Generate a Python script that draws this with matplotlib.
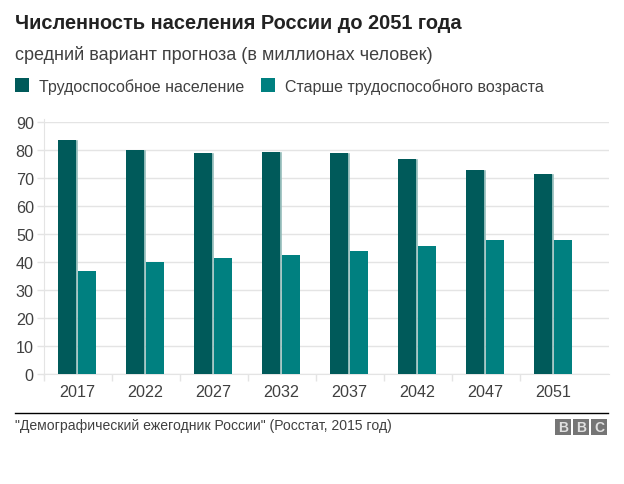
import matplotlib
matplotlib.use("Agg")
import matplotlib.pyplot as plt
from matplotlib.patches import Rectangle
from matplotlib.lines import Line2D

years = ["2017", "2022", "2027", "2032", "2037", "2042", "2047", "2051"]
working_age = [83.5, 80, 79, 79.5, 78.9, 76.9, 72.9, 71.6]
over_working_age = [37, 40, 41.5, 42.7, 44.1, 45.6, 47.8, 47.9]
y_ticks = [0, 10, 20, 30, 40, 50, 60, 70, 80, 90]

DARK = "#005a5a"
TEAL = "#008080"
W, H = 624, 485

plt.rcParams["font.family"] = ["Liberation Sans", "DejaVu Sans"]

fig = plt.figure(figsize=(W / 100, H / 100), dpi=100)


def fx(px):
    return px / W


def fy(py):
    return 1 - py / H


ax = fig.add_axes([fx(43.5), fy(375), fx(609 - 43.5), (375 - 123.3) / H])

x = list(range(len(years)))
px = 1 / 68  # one pixel in category units
bar_w = 18.3 * px
# light edge shows on the right and top of the dark bars
ax.bar([i - 9.7 * px for i in x], working_age, width=bar_w, color="#8fb9b7",
       edgecolor="#8fb9b7", linewidth=0.4, zorder=3)
ax.bar([i - 10.35 * px for i in x], working_age, width=bar_w, color=DARK, zorder=4)
ax.bar([i + 9.35 * px for i in x], over_working_age, width=bar_w, color=TEAL, zorder=3)

ax.set_xlim(-0.5, (609 - 43.5) / 68 - 0.5)
ax.set_ylim(0, 90)
ax.set_yticks(y_ticks)
ax.set_xticks([i - 0.5 for i in x], minor=False)
ax.set_xticklabels([])
ax.tick_params(axis="x", length=5, color="#e4e4e4", width=1)
ax.tick_params(axis="y", length=5, color="#e4e4e4", width=1, labelsize=11.6,
               labelcolor="#404040", pad=2)
ax.grid(axis="y", color="#e4e4e4", linewidth=1, zorder=0)
for s in ["top", "right"]:
    ax.spines[s].set_visible(False)
ax.spines["left"].set_color("#e4e4e4")
ax.spines["left"].set_bounds(0, 91.2)
ax.spines["bottom"].set_color("#e4e4e4")

for i, yr in zip(x, years):
    ax.text(i, -0.07, yr, transform=ax.get_xaxis_transform(), ha="center", va="center",
            fontsize=11.6, color="#404040")

fig.text(fx(15), fy(23.5), "Численность населения России до 2051 года", fontsize=14.4,
         fontweight="bold", color="#222222", va="center")
fig.text(fx(15), fy(54.5), "средний вариант прогноза (в миллионах человек)", fontsize=13.0,
         color="#404040", va="center")

fig.add_artist(Rectangle((fx(15), fy(93)), 14 / W, 14 / H, transform=fig.transFigure,
                         facecolor=DARK, edgecolor="none"))
fig.text(fx(39), fy(87.5), "Трудоспособное население", fontsize=11.55, color="#404040",
         va="center")
fig.add_artist(Rectangle((fx(261), fy(93)), 14 / W, 14 / H, transform=fig.transFigure,
                         facecolor=TEAL, edgecolor="none"))
fig.text(fx(285), fy(87.5), "Старше трудоспособного возраста", fontsize=11.55, color="#404040",
         va="center")

fig.add_artist(Line2D([fx(15), fx(608)], [fy(414), fy(414)], color="black", linewidth=1.0))
fig.text(fx(15), fy(426), "\"Демографический ежегодник России\" (Росстат, 2015 год)",
         fontsize=10.1, color="#404040", va="center")

for left, letter in zip([555, 573, 591], "BBC"):
    fig.add_artist(Rectangle((fx(left), fy(436)), 16 / W, 16 / H, transform=fig.transFigure,
                             facecolor="#757575", edgecolor="none"))
    fig.text(fx(left + 8), fy(428), letter, fontsize=10, fontweight="bold", color="#e0e0e0",
             ha="center", va="center")

fig.savefig("out.png", dpi=100)
